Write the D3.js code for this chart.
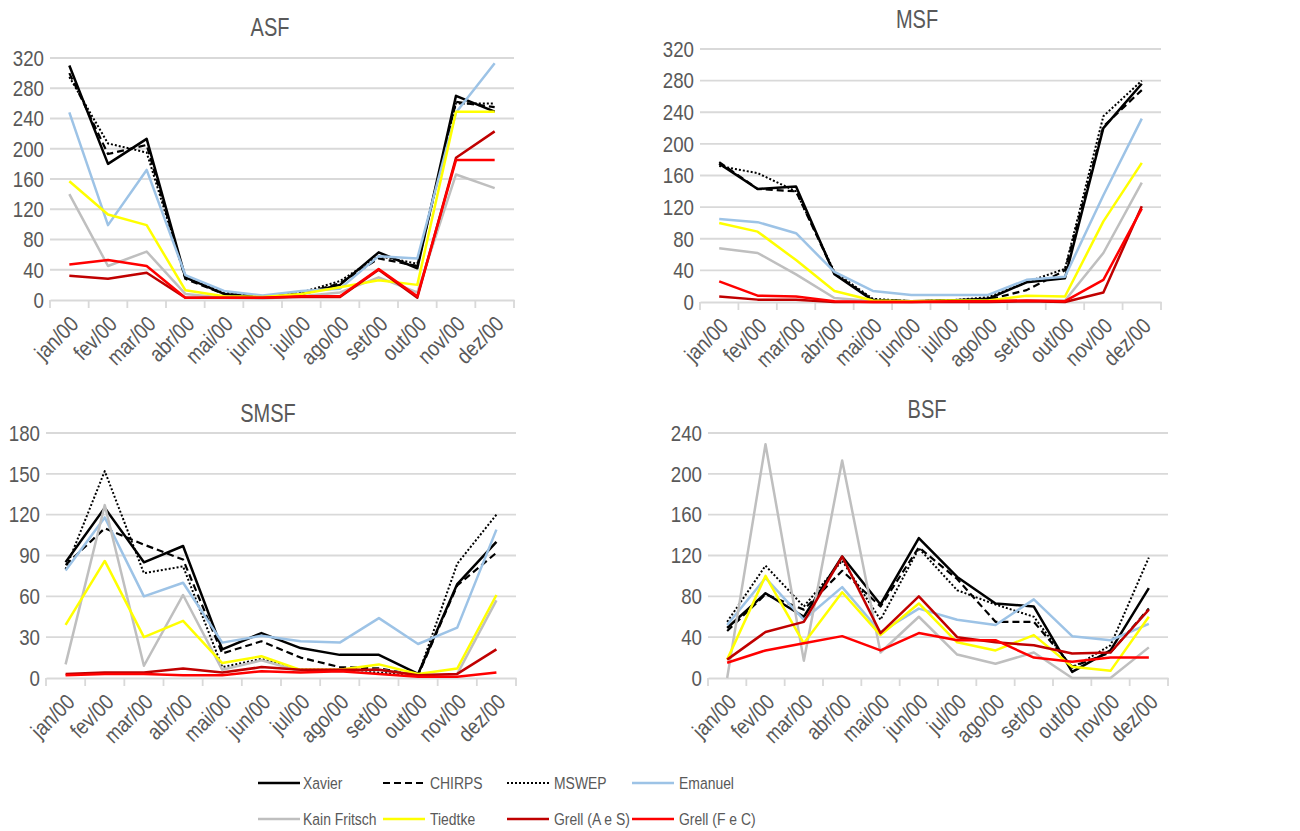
<!DOCTYPE html>
<html>
<head>
<meta charset="utf-8">
<script src="https://cdn.jsdelivr.net/npm/d3@7"></script>
<style>
  body { margin: 0; background: #fff; }
  svg { display: block; }
  text { font-family: "Liberation Sans", Arial, sans-serif; fill: #595959; }
</style>
</head>
<body>
<svg id="chart" width="1300" height="831"></svg>
<script>
const months = ["jan/00","fev/00","mar/00","abr/00","mai/00","jun/00","jul/00","ago/00","set/00","out/00","nov/00","dez/00"];
const seriesNames = ["Xavier","CHIRPS","MSWEP","Emanuel","Kain Fritsch","Tiedtke","Grell (A e S)","Grell (F e C)"];

// ASF
const asfXavier  = [310,180,213,30,8,3,8,20,63,42,270,249];
const asfChirps  = [300,193,205,28,8,5,8,22,55,45,262,255];
const asfMswep   = [295,207,195,30,10,5,10,25,58,48,260,260];
const asfEmanuel = [248,99,172,33,12,6,12,15,58,55,248,313];
const asfKain    = [140,45,64,8,3,2,5,10,30,10,166,148];
const asfTiedtke = [157,113,99,13,5,4,8,17,26,20,249,249];
const asfGrellAS = [32,28,36,3,3,3,4,4,40,3,188,223];
const asfGrellFC = [47,53,45,3,3,3,5,5,41,5,185,185];

// MSF
const msfXavier  = [175,143,146,35,2,1,2,4,25,30,220,276];
const msfChirps  = [177,143,140,36,3,1,2,3,15,40,222,268];
const msfMswep   = [172,163,140,38,4,1,2,6,25,42,235,280];
const msfEmanuel = [105,101,87,38,14,9,9,9,28,32,135,232];
const msfKain    = [68,62,35,5,1,0,1,1,2,2,62,151];
const msfTiedtke = [100,89,53,14,2,1,2,2,8,7,102,176];
const msfGrellAS = [7,3,3,0,0,0,0,0,1,0,12,121];
const msfGrellFC = [26,8,7,1,0,0,1,1,2,1,28,118];

// SMSF
const smsfXavier  = [85,125,85,97,21,33,22,17,17,3,69,100];
const smsfChirps  = [83,110,98,87,18,27,15,8,7,2,68,92];
const smsfMswep   = [80,152,77,82,8,14,6,6,4,2,84,120];
const smsfEmanuel = [79,118,60,70,26,31,27,26,44,25,37,109];
const smsfKain    = [10,127,9,61,6,13,5,5,6,2,3,57];
const smsfTiedtke = [39,86,30,42,11,16,6,6,10,3,7,61];
const smsfGrellAS = [3,4,4,7,4,8,6,6,6,2,3,21];
const smsfGrellFC = [2,3,3,2,2,5,4,5,3,1,1,4];

// BSF
const bsfXavier  = [49,83,60,119,72,137,99,73,70,6,27,88];
const bsfChirps  = [46,82,67,105,70,128,97,55,55,11,25,68];
const bsfMswep   = [55,110,70,115,57,127,86,72,60,10,32,118];
const bsfEmanuel = [52,98,57,89,45,68,57,52,77,41,37,53];
const bsfKain    = [0,229,17,213,25,60,23,14,25,0,0,30];
const bsfTiedtke = [18,100,34,84,42,73,35,27,42,11,7,60];
const bsfGrellAS = [18,45,55,119,44,80,40,35,32,24,25,67];
const bsfGrellFC = [15,27,34,41,27,44,37,37,20,16,20,20];

const styles = {
  "Xavier":        { color: "#000000", dash: null, w: 2.5 },
  "CHIRPS":        { color: "#000000", dash: "7,4", w: 2.2 },
  "MSWEP":         { color: "#000000", dash: "2,2", w: 2 },
  "Emanuel":       { color: "#9dc3e6", dash: null, w: 2.5 },
  "Kain Fritsch":  { color: "#bfbfbf", dash: null, w: 2.5 },
  "Tiedtke":       { color: "#ffff00", dash: null, w: 2.5 },
  "Grell (A e S)": { color: "#c00000", dash: null, w: 2.5 },
  "Grell (F e C)": { color: "#ff0000", dash: null, w: 2.5 }
};

const panels = [
  { title: "ASF",  series: [asfXavier,asfChirps,asfMswep,asfEmanuel,asfKain,asfTiedtke,asfGrellAS,asfGrellFC],
    x0: 50, x1: 514, yTop: 58, yBot: 300, max: 320, step: 40, tx: 270, ty: 27 },
  { title: "MSF",  series: [msfXavier,msfChirps,msfMswep,msfEmanuel,msfKain,msfTiedtke,msfGrellAS,msfGrellFC],
    x0: 700, x1: 1161, yTop: 49, yBot: 302, max: 320, step: 40, tx: 917, ty: 19 },
  { title: "SMSF", series: [smsfXavier,smsfChirps,smsfMswep,smsfEmanuel,smsfKain,smsfTiedtke,smsfGrellAS,smsfGrellFC],
    x0: 46, x1: 516, yTop: 433, yBot: 678, max: 180, step: 30, tx: 268, ty: 413 },
  { title: "BSF",  series: [bsfXavier,bsfChirps,bsfMswep,bsfEmanuel,bsfKain,bsfTiedtke,bsfGrellAS,bsfGrellFC],
    x0: 708, x1: 1168, yTop: 433, yBot: 678, max: 240, step: 40, tx: 927, ty: 409 }
];

const narrow = 0.85; // no Arial Narrow available, squeeze Liberation Sans
const svg = d3.select("#chart");

panels.forEach(p => {
  const g = svg.append("g");
  const x = d3.scaleBand().domain(months).range([p.x0, p.x1]);
  const y = d3.scaleLinear().domain([0, p.max]).range([p.yBot, p.yTop]);
  const ticks = d3.range(0, p.max + 1, p.step);

  // gridlines
  g.append("g").selectAll("line")
    .data(ticks.filter(t => t > 0))
    .join("line")
    .attr("x1", p.x0).attr("x2", p.x1)
    .attr("y1", d => y(d)).attr("y2", d => y(d))
    .attr("stroke", "#d9d9d9").attr("stroke-width", 1.8);

  // y labels
  g.append("g").selectAll("text")
    .data(ticks)
    .join("text")
    .attr("transform", d => `translate(${p.x0 - 6},${y(d) + 7.8}) scale(${narrow},1)`)
    .attr("text-anchor", "end")
    .style("font-size", "22px")
    .text(d => d);

  // x axis
  const xAxis = g.append("g")
    .attr("transform", `translate(0,${p.yBot})`)
    .call(d3.axisBottom(x).tickSize(0).tickFormat(""));
  xAxis.select(".domain").attr("stroke", "#d9d9d9").attr("stroke-width", 1.8);
  g.append("g").selectAll("line")
    .data(months.concat(["end"]))
    .join("line")
    .attr("x1", (d, i) => i < months.length ? x(d) : p.x1)
    .attr("x2", (d, i) => i < months.length ? x(d) : p.x1)
    .attr("y1", p.yBot).attr("y2", p.yBot + 8)
    .attr("stroke", "#d9d9d9").attr("stroke-width", 1.8);

  g.append("g").selectAll("text")
    .data(months)
    .join("text")
    .attr("transform", d => `translate(${x(d) + x.bandwidth() / 2 + 5},${p.yBot + 20}) rotate(-45) scale(${narrow},1)`)
    .attr("text-anchor", "end")
    .attr("dy", "0.35em")
    .style("font-size", "22px")
    .text(d => d);

  // title
  g.append("text")
    .attr("transform", `translate(${p.tx},${p.ty}) scale(0.8,1)`)
    .attr("dy", "0.35em")
    .attr("text-anchor", "middle")
    .style("font-size", "25px")
    .text(p.title);

  const line = d3.line()
    .x((d, i) => x(months[i]) + x.bandwidth() / 2)
    .y(d => y(d));

  p.series.forEach((vals, k) => {
    const s = styles[seriesNames[k]];
    g.append("path")
      .datum(vals)
      .attr("d", line)
      .attr("fill", "none")
      .attr("stroke", s.color)
      .attr("stroke-width", s.w)
      .attr("stroke-dasharray", s.dash)
      .attr("stroke-linejoin", "round");
  });
});

// legend
const legendCols = [258, 383, 507, 632];
const legendRows = [783, 819];
const legend = svg.append("g");
seriesNames.forEach((name, i) => {
  const s = styles[name];
  const lx = legendCols[i % 4], ly = legendRows[Math.floor(i / 4)];
  const gap = (i % 4 === 0) ? 45 : 47;
  legend.append("line")
    .attr("x1", lx).attr("x2", lx + 42)
    .attr("y1", ly).attr("y2", ly)
    .attr("stroke", s.color).attr("stroke-width", s.w)
    .attr("stroke-dasharray", s.dash);
  legend.append("text")
    .attr("transform", `translate(${lx + gap},${ly}) scale(0.82,1)`)
    .attr("dy", "0.35em")
    .style("font-size", "17px")
    .text(name);
});
</script>
</body>
</html>
